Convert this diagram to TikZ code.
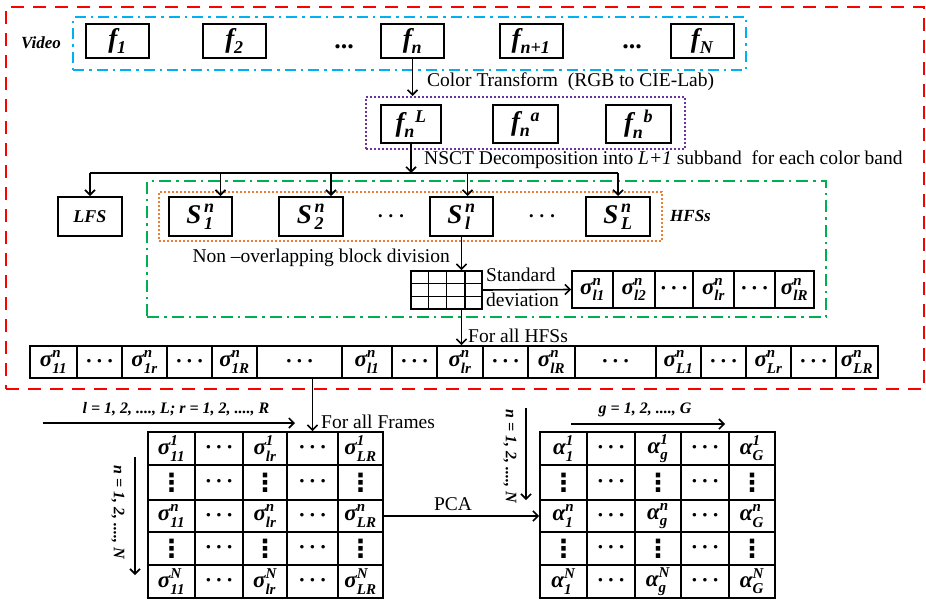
\documentclass[tikz,border=0pt]{standalone}
\usepackage{amsmath}
\usepackage{fontspec}
\setmainfont{Liberation Serif}
\newfontfamily\dejavu{DejaVu Sans}
\usepackage{tikz}
\usetikzlibrary{calc,arrows.meta,positioning}
\definecolor{myRed}{RGB}{255,0,0}
\definecolor{myBlue}{RGB}{0,176,240}
\definecolor{myPurple}{RGB}{112,48,160}
\definecolor{myGreen}{RGB}{0,176,80}
\definecolor{myOrange}{RGB}{237,125,49}
\def\scrfont{\fontsize{14}{14}\selectfont}
\newcommand{\scr}[1]{\mbox{\scrfont #1}}
\newcommand{\sgm}[2]{$\text{σ}^{\scr{#1}}_{\scr{#2}}$}
\newcommand{\alp}[2]{$\text{α}^{\scr{#1}}_{\scr{#2}}$}
\newcommand{\fsub}[1]{$\text{f}_{\scr{#1}}$}
\newcommand{\fsup}[1]{$\text{f}_{\scr{n}}{}^{\scr{#1}}$}
\newcommand{\ssub}[1]{$\text{S}^{\,\scr{n}}_{\,\scr{#1}}$}
\newcommand{\hdts}{{\fontsize{13}{13}\selectfont\textbullet\hspace{6pt}\textbullet\hspace{6pt}\textbullet}}
\newcommand{\vdts}{{\dejavu\bfseries\fontsize{25}{25}\selectfont ⋮}}
\def\dmark{d}\def\vmark{v}
\newcommand{\cellSgm}[2]{\edef\tmpa{#2}\edef\tmpb{#1}%
	\ifx\tmpa\dmark\hdts\else\ifx\tmpb\vmark\vdts\else\sgm{#1}{#2}\fi\fi}
\newcommand{\cellAlp}[2]{\edef\tmpa{#2}\edef\tmpb{#1}%
	\ifx\tmpa\dmark\hdts\else\ifx\tmpb\vmark\vdts\else\alp{#1}{#2}\fi\fi}
\tikzset{
myFrame/.style={
	draw,rectangle,line width=2pt,
	inner sep=0pt,minimum width=63pt,minimum height=34pt,
	font=\fontsize{27}{29}\selectfont\bfseries\itshape\def\scrfont{\fontsize{18}{18}\selectfont}
}
, myCell/.style={
	draw,rectangle,line width=1.8pt,inner sep=0pt,
	font=\fontsize{23}{25}\selectfont\bfseries\itshape\def\scrfont{\fontsize{15}{15}\selectfont}
}
, myText/.style={inner sep=0pt,font=\fontsize{19.5}{22}\selectfont}
, myBold/.style={inner sep=0pt,font=\fontsize{17}{20}\selectfont\bfseries\itshape}
% group boxes
, myRedBox/.style={draw=myRed,line width=2pt,dash pattern=on 13pt off 9pt}
, myBlueBox/.style={draw=myBlue,line width=2pt,dash pattern=on 11pt off 5pt on 2.5pt off 5pt}
, myGreenBox/.style={draw=myGreen,line width=2pt,dash pattern=on 12pt off 5pt on 2.5pt off 5pt}
, myPurpleBox/.style={draw=myPurple,line width=2pt,dash pattern=on 2pt off 2pt}
, myOrangeBox/.style={draw=myOrange,line width=2pt,dash pattern=on 2pt off 2pt}
% links
, myArrow/.style={-{Straight Barb[length=5pt,width=10pt]},line width=1.6pt}
, myLine/.style={line width=1.6pt}
}
\begin{document}
\begin{tikzpicture}[x=1pt,y=-1pt]
	\useasboundingbox (0,0) rectangle (926,600);
	% group boxes
	\node[myRedBox,minimum width=918pt,minimum height=382pt] (Outer) at (465,198) {};
	\node[myBlueBox,minimum width=673pt,minimum height=53pt] (Video) at (409.5,43.5) {};
	\node[myPurpleBox,minimum width=319pt,minimum height=52pt] (Lab) at (525.5,123) {};
	\node[myGreenBox,minimum width=679pt,minimum height=136pt] (Block) at (486.5,249) {};
	\node[myOrangeBox,minimum width=503pt,minimum height=49pt] (Hfs) at (410.5,216.5) {};
	% video frames
	\node[myBold] (VideoLbl) at (41,43) {Video};
	\node[myFrame] (F1) at (117.5,41) {\fsub{1}};
	\node[myFrame] (F2) at (234.5,41) {\fsub{2}};
	\node[myFrame] (Fn) at (412.5,41) {\fsub{n}};
	\node[myFrame] (Fnn) at (531,41) {\fsub{n+1}};
	\node[myFrame] (FN) at (702,41) {\fsub{N}};
	\node[myText,font=\fontsize{26}{28}\selectfont\bfseries] (FDotsA) at (344,47) {...};
	\node[myText,font=\fontsize{26}{28}\selectfont\bfseries] (FDotsB) at (632,47) {...};
	\node[myText,anchor=west] (ColorLbl) at (427,82) {Color Transform\ \ (RGB to CIE-Lab)};
	% color bands
	\node[myFrame,minimum width=60pt,minimum height=38pt] (FL) at (411,124) {\fsup{L}};
	\node[myFrame,minimum width=65pt,minimum height=38pt] (Fa) at (525.5,124) {\fsup{a}};
	\node[myFrame,minimum width=65pt,minimum height=38pt] (Fb) at (638.5,124) {\fsup{b}};
	\node[myText,anchor=west] (NsctLbl) at (424,160) {NSCT Decomposition\ into \textit{L+1} subband\ \ for each color band};
	% subbands
	\node[myFrame,minimum width=64pt,minimum height=39pt,font=\fontsize{18}{20}\selectfont\bfseries\itshape] (LFS) at (90,216.5) {LFS};
	\node[myFrame,minimum width=63pt,minimum height=39pt] (S1) at (200.5,216.5) {\ssub{1}};
	\node[myFrame,minimum width=64pt,minimum height=39pt] (S2) at (311,216.5) {\ssub{2}};
	\node[myFrame,minimum width=63pt,minimum height=39pt] (Sl) at (461.5,216.5) {\ssub{l}};
	\node[myFrame,minimum width=64pt,minimum height=39pt] (SL) at (618,216.5) {\ssub{L}};
	\node[myText] (SDotsA) at (391,218) {\hdts};
	\node[myText] (SDotsB) at (542,218) {\hdts};
	\node[myBold,anchor=west] (HfsLbl) at (670,216) {HFSs};
	% block division
	\node[myText,anchor=east] (BlockLbl) at (450,258) {Non –overlapping\ block\ division};
	\node[draw,rectangle,line width=1.8pt,minimum width=71pt,minimum height=38pt,inner sep=0pt] (Grid) at (446.5,290) {};
	\foreach \i in {1,2,3}
		\draw[line width=1.6pt] ($(Grid.north west)!\i/4!(Grid.north east)$) -- ($(Grid.south west)!\i/4!(Grid.south east)$);
	\foreach \i in {1,2}
		\draw[line width=1.6pt] ($(Grid.north west)!\i/3!(Grid.south west)$) -- ($(Grid.north east)!\i/3!(Grid.south east)$);
	\node[myText,anchor=west] (StdLbl) at (486,275) {Standard};
	\node[myText,anchor=west] (DevLbl) at (486,300) {deviation};
	% standard deviations of one subband
	\foreach \xa/\xb/\lab/\nm in {572/613/{\sgm{n}{l1}}/T1, 613/655/{\sgm{n}{l2}}/T2, 655/693/{\hdts}/T3,
		693/734/{\sgm{n}{lr}}/T4, 734/775/{\hdts}/T5, 775/814/{\sgm{n}{lR}}/T6}
		\node[myCell,minimum width={(\xb-\xa)*1pt},minimum height=37pt]
			(\nm) at ({(\xa+\xb)/2},289.5) {\lab};
	% all HFSs
	\node[myText,anchor=west] (AllHfsLbl) at (468,336) {For all HFSs};
	\foreach \xa/\xb/\lab/\nm in {30/77/{\sgm{n}{11}}/B1, 77/122/{\hdts}/B2, 122/167/{\sgm{n}{1r}}/B3,
		167/212/{\hdts}/B4, 212/257/{\sgm{n}{1R}}/B5, 257/342/{\hdts}/B6, 342/392/{\sgm{n}{l1}}/B7,
		392/437/{\hdts}/B8, 437/483/{\sgm{n}{lr}}/B9, 483/528/{\hdts}/B10, 528/575/{\sgm{n}{lR}}/B11,
		575/656/{\hdts}/B12, 656/701/{\sgm{n}{L1}}/B13, 701/746/{\hdts}/B14, 746/791/{\sgm{n}{Lr}}/B15,
		791/836/{\hdts}/B16, 836/878/{\sgm{n}{LR}}/B17}
		\node[myCell,minimum width={(\xb-\xa)*1pt},minimum height=32pt]
			(\nm) at ({(\xa+\xb)/2},362) {\lab};
	% feature matrix
	\foreach \ya/\yb/\r/\pSup in {432/465/1/1, 465/500/2/v, 500/532/3/n, 532/565/4/v, 565/598/5/N}
		\foreach \xa/\xb/\c/\pSub in {148/195/1/11, 195/243/2/d, 243/287/3/lr, 287/338/4/d, 338/383/5/LR}
			\node[myCell,minimum width={(\xb-\xa)*1pt},minimum height={(\yb-\ya)*1pt}]
				(M\r\c) at ({(\xa+\xb)/2},{(\ya+\yb)/2}) {\cellSgm{\pSup}{\pSub}};
	\coordinate (LrA) at (43,423);
	\coordinate (LrB) at (295,423);
	\node[myBold,font=\fontsize{16}{18}\selectfont\bfseries\itshape] (LrLbl) at (176,409) {l = 1, 2, ...., L; r = 1, 2, ...., R};
	\node[myText,anchor=west] (FramesLbl) at (321,422) {For all Frames};
	\coordinate (NA) at (135,457);
	\coordinate (NB) at (135,575);
	\node[myBold,font=\fontsize{16}{18}\selectfont\bfseries\itshape,rotate=-90] (NLbl) at (118,512) {n = 1, 2, ...., N};
	% reduced matrix
	\foreach \ya/\yb/\r/\pSup in {432/465/1/1, 465/500/2/v, 500/532/3/n, 532/565/4/v, 565/598/5/N}
		\foreach \xa/\xb/\c/\pSub in {540/587/1/1, 587/635/2/d, 635/681/3/g, 681/729/4/d, 729/775/5/G}
			\node[myCell,minimum width={(\xb-\xa)*1pt},minimum height={(\yb-\ya)*1pt}]
				(A\r\c) at ({(\xa+\xb)/2},{(\ya+\yb)/2}) {\cellAlp{\pSup}{\pSub}};
	\coordinate (GA) at (571,424);
	\coordinate (GB) at (725,424);
	\node[myBold,font=\fontsize{16}{18}\selectfont\bfseries\itshape] (GLbl) at (645,410) {g = 1, 2, ...., G};
	\coordinate (NC) at (526,408);
	\coordinate (ND) at (526,500);
	\node[myBold,font=\fontsize{16}{18}\selectfont\bfseries\itshape,rotate=-90] (NLblB) at (510,456) {n = 1, 2, ...., N};
	\node[myText] (PcaLbl) at (453,504) {PCA};

	% links
	\draw[myArrow] (Fn.south) -- (Fn.south |- Lab.north);
	\coordinate (Split) at (411,173);
	\draw[myArrow] (FL.south) -- (Split);
	\coordinate (LFSin) at (LFS.north);
	\coordinate (S1in) at ([xshift=20pt]S1.north);
	\coordinate (S2in) at ([xshift=20pt]S2.north);
	\coordinate (Slin) at ([xshift=6pt]Sl.north);
	\coordinate (SLin) at (SL.north);
	\draw[myLine] (LFSin |- Split) -- (SLin |- Split);
	\foreach \s in {LFSin,S1in,S2in,Slin,SLin}
		\draw[myArrow] (\s |- Split) -- (\s);
	\draw[myArrow] (Sl.south) -- (Sl.south |- Grid.north);
	\draw[myArrow] (Grid.east) -- (T1.west);
	\draw[myArrow] (Sl.south |- Grid.south) -- (Sl.south |- B9.north);
	\draw[myArrow] (M14.north |- B6.south) -- (M14.north);
	\draw[myArrow] (LrA) -- (LrB);
	\draw[myArrow] (NA) -- (NB);
	\draw[myArrow] (M35.east) -- (A31.west);
	\draw[myArrow] (GA) -- (GB);
	\draw[myArrow] (NC) -- (ND);
\end{tikzpicture}
\end{document}
